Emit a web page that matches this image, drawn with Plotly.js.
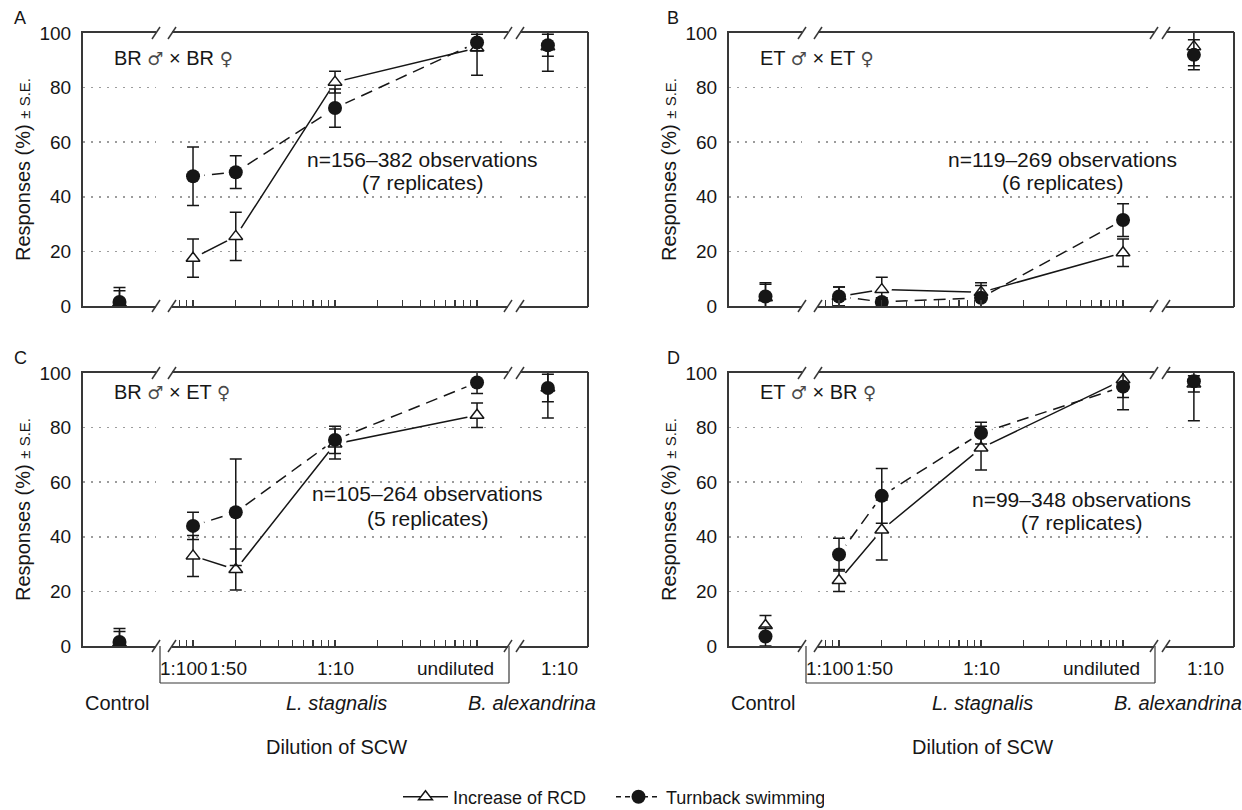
<!DOCTYPE html>
<html>
<head>
<meta charset="utf-8">
<script src="https://cdn.plot.ly/plotly-3.0.1.min.js"></script>
<style>
html,body{margin:0;padding:0;background:#ffffff;}
#chart{width:1242px;height:810px;}
</style>
</head>
<body>
<div id="chart"></div>
<script>
// ---------------- data ----------------
// Point order in every series:
// Control, L. stagnalis 1:100, 1:50, 1:10, undiluted, B. alexandrina 1:10
const panelLetters = ['A', 'B', 'C', 'D'];
const crossMales = ['BR', 'ET', 'BR', 'ET'];
const crossFemales = ['BR', 'ET', 'ET', 'BR'];
const obsLabels = ['n=156\u2013382 observations', 'n=119\u2013269 observations', 'n=105\u2013264 observations', 'n=99\u2013348 observations'];
const replicateLabels = ['(7 replicates)', '(6 replicates)', '(5 replicates)', '(7 replicates)'];
const seriesNames = ['Increase of RCD', 'Turnback swimming'];

const controlCategory = ['Control'];
const stagnalisDilutions = [0.01, 0.02, 0.1, 1];
const stagnalisLabels = ['1:100', '1:50', '1:10', 'undiluted'];
const alexandrinaCategory = ['1:10'];
const groupLabels = ['Control', 'L. stagnalis', 'B. alexandrina'];
const xTitle = 'Dilution of SCW';
const yTitle = 'Responses (%) <span style="font-size:15px">\u00b1 S.E.</span>';
const yTickVals = [0, 20, 40, 60, 80, 100];
const yTickText = ['0', '20', '40', '60', '80', '100'];
const logTickVals = [0.007, 0.008, 0.009, 0.01, 0.02, 0.03, 0.04, 0.05, 0.06, 0.07, 0.08, 0.09,
                     0.1, 0.2, 0.3, 0.4, 0.5, 0.6, 0.7, 0.8, 0.9, 1];

// Panel A: BR x BR
const rcdA   = [1.0, 17.5, 25.5, 82.0, 94.5, 95.0];
const rcdSeA = [4.6, 7.0, 8.8, 4.0, 10.0, 9.0];
const tbA    = [1.5, 47.5, 49.0, 72.5, 96.5, 95.5];
const tbSeA  = [5.3, 10.7, 6.0, 7.0, 3.0, 4.0];
// Panel B: ET x ET
const rcdB   = [3.0, 3.5, 6.0, 5.0, 19.5, 95.0];
const rcdSeB = [5.0, 3.5, 4.5, 2.5, 5.0, 7.0];
const tbB    = [3.5, 3.5, 1.5, 3.0, 31.5, 92.0];
const tbSeB  = [5.0, 3.5, 1.5, 5.5, 6.0, 5.5];
// Panel C: BR x ET
const rcdC   = [1.0, 33.0, 28.0, 74.0, 84.5, 94.5];
const rcdSeC = [4.3, 7.5, 7.5, 5.5, 4.5, 11.0];
const tbC    = [1.5, 44.0, 49.0, 75.5, 96.5, 94.5];
const tbSeC  = [4.9, 5.0, 19.5, 5.0, 4.0, 5.0];
// Panel D: ET x BR
const rcdD   = [7.5, 24.0, 42.5, 72.5, 97.5, 96.0];
const rcdSeD = [3.7, 4.0, 11.0, 8.0, 6.5, 3.0];
const tbD    = [3.5, 33.5, 55.0, 78.0, 95.0, 97.0];
const tbSeD  = [3.5, 6.0, 10.0, 4.0, 8.5, 14.5];

const panelData = [
  {rcd: rcdA, rcdSe: rcdSeA, tb: tbA, tbSe: tbSeA},
  {rcd: rcdB, rcdSe: rcdSeB, tb: tbB, tbSe: tbSeB},
  {rcd: rcdC, rcdSe: rcdSeC, tb: tbC, tbSe: tbSeC},
  {rcd: rcdD, rcdSe: rcdSeD, tb: tbD, tbSe: tbSeD}
];

// ---------------- layout geometry (pixels) ----------------
const W = 1242, H = 810;
const FONT = '"Liberation Sans", Arial, Helvetica, sans-serif';
const INK = '#161616';
const FRAME = '#383838';
const GRID = '#9c9c9c';
const colLeft = [83, 729];
const panelW = 505;
const rowTop = [33, 373];
const rowBottom = [306, 646];
const segs = [[0, 73], [89, 425], [437, 505]];   // control | L. stagnalis (log) | B. alexandrina
const logRange = [-2.148, 0.218];
const letterDx = [-63, -56];
const crossDy = [25.5, 19];
const obsPos = [[422, 159, 183], [1062, 159, 183], [428, 493, 518], [1081, 499, 522]];
const rowLabelY = 668, rowGroupY = 703, rowTitleY = 747, bracketY = 683;

const px = v => v / W;
const py = v => 1 - v / H;
const axName = (p, n) => n === 1 ? p : p + n;
const axKey = (p, n) => n === 1 ? p + 'axis' : p + 'axis' + n;
const sym = c => '<span style="font-family:\'DejaVu Sans\';color:#4a4a4a;font-size:18px">' + c + '</span>';
const crossText = i => crossMales[i] + ' ' + sym('\u2642') + ' \u00d7 ' + crossFemales[i] + ' ' + sym('\u2640');

const layout = {
  width: W, height: H,
  margin: {l: 0, r: 0, t: 0, b: 0, autoexpand: false},
  paper_bgcolor: '#ffffff', plot_bgcolor: '#ffffff',
  font: {family: FONT, size: 19, color: INK},
  showlegend: true,
  legend: {
    orientation: 'h', x: px(398), xanchor: 'left', y: py(797), yanchor: 'middle',
    font: {family: FONT, size: 18, color: INK}, bgcolor: 'rgba(0,0,0,0)',
    itemwidth: 45, entrywidth: 153, entrywidthmode: 'pixels'
  },
  shapes: [], annotations: []
};

const lineTraces = [], haloTraces = [], markTraces = [];

const baseX = {
  showline: true, mirror: true, linecolor: FRAME, linewidth: 2,
  showgrid: false, zeroline: false, showticklabels: false, ticks: '', fixedrange: true
};

function markerStyle(isRcd) {
  return isRcd
    ? {symbol: 'triangle-up', size: 12, color: '#ffffff', line: {color: INK, width: 1.5}}
    : {symbol: 'circle', size: 14, color: INK, line: {color: INK, width: 0}};
}
function errStyle(arr) {
  return {type: 'data', symmetric: true, array: arr, color: INK, thickness: 1.5, width: 6};
}

panelData.forEach((P, p) => {
  const col = p % 2, row = Math.floor(p / 2);
  const L = colLeft[col], top = rowTop[row], bot = rowBottom[row];
  const yN = p + 1, xc = 3 * p + 1, xl = 3 * p + 2, xb = 3 * p + 3;
  const yName = axName('y', yN);
  const dom = s => [px(L + segs[s][0]), px(L + segs[s][1])];

  layout[axKey('x', xc)] = Object.assign({}, baseX, {domain: dom(0), anchor: yName, type: 'category', range: [-0.5, 0.5]});
  layout[axKey('x', xl)] = Object.assign({}, baseX, {
    domain: dom(1), anchor: yName, type: 'log', range: logRange,
    tickmode: 'array', tickvals: logTickVals, ticks: 'inside', ticklen: 6, tickwidth: 1.2, tickcolor: FRAME
  });
  layout[axKey('x', xb)] = Object.assign({}, baseX, {domain: dom(2), anchor: yName, type: 'category', range: [-0.41, 0.59]});
  layout[axKey('y', yN)] = {
    domain: [py(bot), py(top)], anchor: axName('x', xc), range: [0, 100], autorange: false,
    tickmode: 'array', tickvals: yTickVals, ticktext: yTickText, ticks: '',
    showline: true, linecolor: FRAME, linewidth: 2,
    showgrid: true, gridcolor: GRID, gridwidth: 1.5, griddash: '2px,6px', zeroline: false,
    tickfont: {family: FONT, size: 19, color: INK}, ticklabelstandoff: 6, fixedrange: true,
    title: {text: yTitle, font: {family: FONT, size: 20, color: INK}, standoff: 3}
  };

  const series = [
    {y: P.rcd, se: P.rcdSe, isRcd: true},
    {y: P.tb, se: P.tbSe, isRcd: false}
  ];
  series.forEach(S => {
    const mid = S.y.slice(1, 5), midSe = S.se.slice(1, 5);
    lineTraces.push({
      type: 'scatter', mode: 'lines', x: stagnalisDilutions, y: mid,
      xaxis: axName('x', xl), yaxis: yName, showlegend: false, hoverinfo: 'skip',
      line: {color: INK, width: 1.5, dash: S.isRcd ? 'solid' : '12px,7px'}
    });
    haloTraces.push({
      type: 'scatter', mode: 'markers', x: stagnalisDilutions, y: mid,
      xaxis: axName('x', xl), yaxis: yName, showlegend: false, hoverinfo: 'skip',
      marker: {symbol: 'circle', size: S.isRcd ? 20 : 23, color: '#ffffff'}
    });
    markTraces.push({
      type: 'scatter', mode: 'markers', x: controlCategory, y: [S.y[0]],
      xaxis: axName('x', xc), yaxis: yName, showlegend: false,
      marker: markerStyle(S.isRcd), error_y: errStyle([S.se[0]])
    });
    markTraces.push({
      type: 'scatter', mode: 'markers', x: stagnalisDilutions, y: mid,
      xaxis: axName('x', xl), yaxis: yName, showlegend: false,
      marker: markerStyle(S.isRcd), error_y: errStyle(midSe)
    });
    markTraces.push({
      type: 'scatter', mode: 'markers', x: alexandrinaCategory, y: [S.y[5]],
      xaxis: axName('x', xb), yaxis: yName, showlegend: false,
      marker: markerStyle(S.isRcd), error_y: errStyle([S.se[5]])
    });
  });

  // frame: right border and axis breaks
  const frameLine = (x0, y0, x1, y1, w) => ({type: 'line', xref: 'paper', yref: 'paper',
    x0: px(x0), y0: py(y0), x1: px(x1), y1: py(y1), line: {color: FRAME, width: w}});
  layout.shapes.push(frameLine(L + panelW, top - 1, L + panelW, bot + 1, 2));
  [segs[0][1], segs[1][0], segs[1][1], segs[2][0]].forEach(cx => {
    [top, bot].forEach(cy => {
      layout.shapes.push(frameLine(L + cx - 4, cy + 6, L + cx + 4, cy - 6, 1.5));
    });
  });

  // panel letter, cross label, observation note
  layout.annotations.push({xref: 'paper', yref: 'paper', x: px(L + letterDx[col]), y: py(top - 15),
    text: panelLetters[p], showarrow: false, xanchor: 'center', yanchor: 'middle', font: {size: 18}});
  layout.annotations.push({xref: 'paper', yref: 'paper', x: px(L + 29), y: py(top + crossDy[row]),
    text: crossText(p), showarrow: false, xanchor: 'left', yanchor: 'middle', font: {size: 20}});
  layout.annotations.push({xref: 'paper', yref: 'paper', x: px(obsPos[p][0]), y: py(obsPos[p][1]),
    text: obsLabels[p], showarrow: false, xanchor: 'center', yanchor: 'middle', font: {size: 21}});
  layout.annotations.push({xref: 'paper', yref: 'paper', x: px(obsPos[p][0]), y: py(obsPos[p][2]),
    text: replicateLabels[p], showarrow: false, xanchor: 'center', yanchor: 'middle', font: {size: 21}});

  // x labels only on the bottom row
  if (row === 1) {
    layout.shapes.push(frameLine(L + 77, bot, L + 77, bracketY, 1.2));
    layout.shapes.push(frameLine(L + 77, bracketY, L + 426, bracketY, 1.2));
    layout.shapes.push(frameLine(L + 426, bot, L + 426, bracketY, 1.2));
    const labelShift = [-9.5, -7, 0.5, -22];
    stagnalisDilutions.forEach((d, i) => {
      layout.annotations.push({xref: axName('x', xl), yref: 'paper', x: Math.log10(d), y: py(rowLabelY),
        xshift: labelShift[i], text: stagnalisLabels[i], showarrow: false,
        xanchor: 'center', yanchor: 'middle', font: {size: 19}});
    });
    layout.annotations.push({xref: axName('x', xb), yref: 'paper', x: 0, y: py(rowLabelY), xshift: 12,
      text: alexandrinaCategory[0], showarrow: false, xanchor: 'center', yanchor: 'middle', font: {size: 19}});
    layout.annotations.push({xref: axName('x', xc), yref: 'paper', x: 0, y: py(rowGroupY), xshift: -3,
      text: groupLabels[0], showarrow: false, xanchor: 'center', yanchor: 'middle', font: {size: 20}});
    layout.annotations.push({xref: axName('x', xl), yref: 'paper', x: Math.log10(0.1), y: py(rowGroupY), xshift: 1,
      text: '<i>' + groupLabels[1] + '</i>', showarrow: false, xanchor: 'center', yanchor: 'middle', font: {size: 20}});
    layout.annotations.push({xref: axName('x', xb), yref: 'paper', x: 0, y: py(rowGroupY), xshift: -16,
      text: '<i>' + groupLabels[2] + '</i>', showarrow: false, xanchor: 'center', yanchor: 'middle', font: {size: 20}});
    layout.annotations.push({xref: 'paper', yref: 'paper', x: px(L + 253.5), y: py(rowTitleY),
      text: xTitle, showarrow: false, xanchor: 'center', yanchor: 'middle', font: {size: 20}});
  }
});

// legend entries
const legendTraces = [
  {type: 'scatter', mode: 'lines+markers', x: [null], y: [null], xaxis: 'x2', yaxis: 'y',
   name: seriesNames[0], showlegend: true, line: {color: INK, width: 1.5, dash: 'solid'}, marker: markerStyle(true)},
  {type: 'scatter', mode: 'lines+markers', x: [null], y: [null], xaxis: 'x2', yaxis: 'y',
   name: seriesNames[1], showlegend: true, line: {color: INK, width: 1.5, dash: '5px,4px'}, marker: markerStyle(false)}
];

const data = [].concat(lineTraces, haloTraces, markTraces, legendTraces);
Plotly.newPlot('chart', data, layout, {staticPlot: true, displayModeBar: false});
</script>
</body>
</html>
